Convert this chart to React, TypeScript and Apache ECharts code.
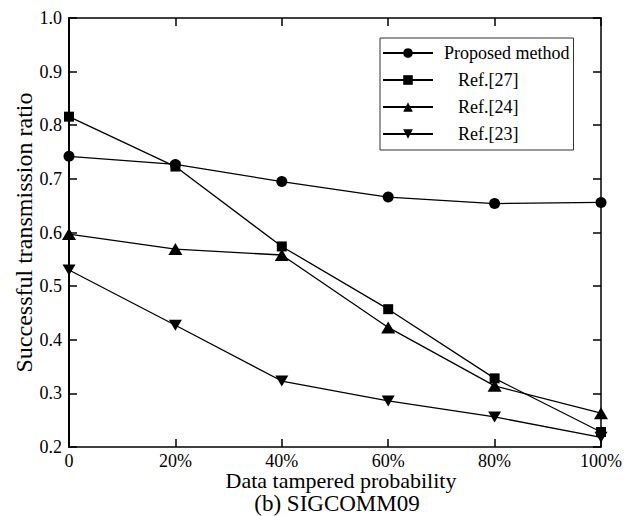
import React, { useEffect, useRef } from "react";
import * as echarts from "echarts";

const categories = ["0", "20%", "40%", "60%", "80%", "100%"];
const proposed = [0.742, 0.727, 0.695, 0.666, 0.654, 0.656];
const ref27 = [0.816, 0.723, 0.574, 0.457, 0.328, 0.228];
const ref24 = [0.597, 0.569, 0.558, 0.423, 0.314, 0.263];
const ref23 = [0.53, 0.427, 0.323, 0.286, 0.256, 0.218];
const seriesNames = ["Proposed method", "Ref.[27]", "Ref.[24]", "Ref.[23]"];

const FONT = "'Liberation Serif', 'Times New Roman', serif";

export default function App() {
  const ref = useRef<HTMLDivElement>(null);
  useEffect(() => {
    if (!ref.current) return;
    const chart = echarts.init(ref.current, null, { renderer: "svg" });
    const lineStyle = { color: "#000", width: 1.3 };
    const itemStyle = { color: "#000" };
    const mk = (name: string, data: number[], symbol: string, size: number | number[], rotate = 0) => ({
      name,
      type: "line",
      data,
      symbol,
      symbolSize: size,
      symbolRotate: rotate,
      showAllSymbol: true,
      lineStyle,
      itemStyle,
      emphasis: { disabled: true },
    });
    chart.setOption({
      animation: false,
      backgroundColor: "#fff",
      textStyle: { fontFamily: FONT, color: "#000" },
      grid: { left: 69, right: 35, top: 18, bottom: 69, containLabel: false },
      title: {
        text: "(b) SIGCOMM09",
        left: 337,
        textAlign: "center",
        top: 492,
        padding: 0,
        textStyle: { fontFamily: FONT, fontSize: 23, lineHeight: 22, fontWeight: "normal", color: "#000" },
      },
      legend: {
        orient: "vertical",
        left: 380,
        top: 38,
        padding: [6, 4, 7, 2],
        itemWidth: 50,
        itemHeight: 12,
        itemGap: 9,
        borderColor: "#333",
        borderWidth: 1,
        borderRadius: 0,
        data: seriesNames,
        formatter: (n: string) => (n === seriesNames[0] ? `{p|${n}}` : `{r|${n}}`),
        textStyle: {
          fontFamily: FONT,
          fontSize: 18,
          color: "#000",
          rich: {
            p: { fontFamily: FONT, fontSize: 18, lineHeight: 18, color: "#000", padding: [0, 0, 0, 6] },
            r: { fontFamily: FONT, fontSize: 18, lineHeight: 18, color: "#000", padding: [0, 0, 0, 20] },
          },
        },
      },
      xAxis: [
        {
          type: "category",
          data: categories,
          boundaryGap: false,
          position: "bottom",
          name: "Data tampered probability",
          nameLocation: "middle",
          nameGap: 24,
          nameMoveOverlap: false,
          nameTextStyle: { fontFamily: FONT, fontSize: 22, lineHeight: 19, color: "#000", padding: [0, 0, 0, 12] },
          axisLine: { lineStyle: { color: "#000", width: 1.5 } },
          axisTick: { inside: true, length: 8, lineStyle: { color: "#000", width: 1.5 } },
          axisLabel: { fontFamily: FONT, fontSize: 18, lineHeight: 15, color: "#000", margin: 6 },
          splitLine: { show: false },
        },
        {
          type: "category",
          data: categories,
          boundaryGap: false,
          position: "top",
          axisLine: { lineStyle: { color: "#000", width: 1.5 } },
          axisTick: { inside: true, length: 8, lineStyle: { color: "#000", width: 1.5 } },
          axisLabel: { show: false },
          splitLine: { show: false },
        },
      ],
      yAxis: [
        {
          type: "value",
          min: 0.2,
          max: 1.0,
          interval: 0.1,
          position: "left",
          name: "Successful transmission ratio",
          nameLocation: "middle",
          nameGap: 33,
          nameMoveOverlap: false,
          nameTextStyle: { fontFamily: FONT, fontSize: 24, color: "#000" },
          axisLine: { show: true, lineStyle: { color: "#000", width: 2 } },
          axisTick: { show: true, inside: true, length: 8, lineStyle: { color: "#000", width: 1.5 } },
          axisLabel: {
            fontFamily: FONT,
            fontSize: 18,
            color: "#000",
            margin: 7,
            formatter: (v: number) => v.toFixed(1),
          },
          splitLine: { show: false },
        },
        {
          type: "value",
          min: 0.2,
          max: 1.0,
          interval: 0.1,
          position: "right",
          axisLine: { show: true, lineStyle: { color: "#000", width: 1.5 } },
          axisTick: { show: true, inside: true, length: 8, lineStyle: { color: "#000", width: 1.5 } },
          axisLabel: { show: false },
          splitLine: { show: false },
        },
      ],
      series: [
        mk(seriesNames[0], proposed, "circle", 11),
        mk(seriesNames[1], ref27, "rect", 10),
        mk(seriesNames[2], ref24, "triangle", [14, 12]),
        mk(seriesNames[3], ref23, "triangle", [13, 11], 180),
      ],
    });
    return () => chart.dispose();
  }, []);
  return (
    <div
      ref={ref}
      style={{ position: "fixed", left: 0, top: 0, width: 636, height: 516, background: "#fff" }}
    />
  );
}
